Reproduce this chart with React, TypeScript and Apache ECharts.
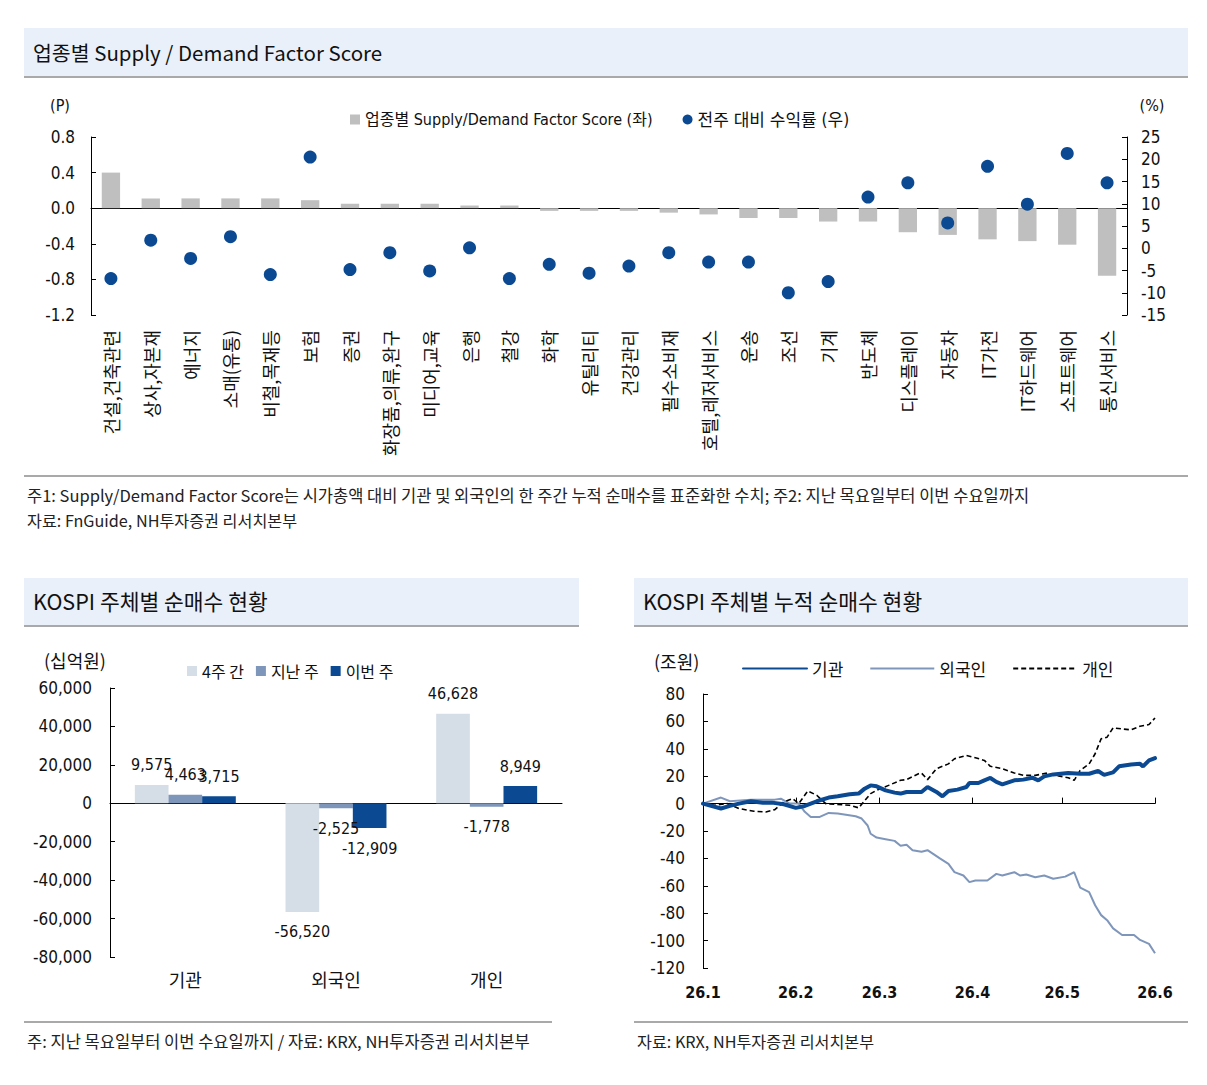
import { useEffect, useRef } from 'react';
import * as echarts from 'echarts';

// ---- 업종별 Supply / Demand Factor Score ----
const sectors = [
  '건설,건축관련', '상사,자본재', '에너지', '소매(유통)', '비철,목재등', '보험', '증권',
  '화장품,의류,완구', '미디어,교육', '은행', '철강', '화학', '유틸리티', '건강관리',
  '필수소비재', '호텔,레저서비스', '운송', '조선', '기계', '반도체', '디스플레이',
  '자동차', 'IT가전', 'IT하드웨어', '소프트웨어', '통신서비스',
];
const sdScore = [
  0.40, 0.11, 0.11, 0.11, 0.11, 0.09, 0.05, 0.05, 0.05, 0.03, 0.03, -0.03, -0.03,
  -0.03, -0.05, -0.07, -0.11, -0.11, -0.15, -0.15, -0.27, -0.30, -0.35, -0.37, -0.41, -0.76,
];
const weeklyReturn = [
  -6.8, 1.8, -2.3, 2.6, -5.9, 20.5, -4.8, -1.0, -5.1, 0.1, -6.8, -3.6, -5.6,
  -4.0, -1.0, -3.1, -3.1, -10.0, -7.5, 11.5, 14.7, 5.7, 18.4, 9.9, 21.3, 14.7,
];
const scoreName = '업종별 Supply/Demand Factor Score (좌)';
const returnName = '전주 대비 수익률 (우)';

// ---- KOSPI 주체별 순매수 현황 (십억원) ----
const investors = ['기관', '외국인', '개인'];
const flow4Weeks = [9575, -56520, 46628];
const flowLastWeek = [4463, -2525, -1778];
const flowThisWeek = [3715, -12909, 8949];

// ---- KOSPI 주체별 누적 순매수 현황 (조원) ----
const cumInstitution: [string, number][] = [
  ['2026-01-01', 0], ['2026-01-07', -3.6], ['2026-01-10', -1.7], ['2026-01-13', 0],
  ['2026-01-17', 1.7], ['2026-01-21', 0.7], ['2026-01-24', 0.7], ['2026-01-28', -0.5],
  ['2026-02-01', -3.1], ['2026-02-04', -1.7], ['2026-02-08', 1.7], ['2026-02-12', 4.4],
  ['2026-02-15', 5.3], ['2026-02-19', 6.8], ['2026-02-22', 7.3], ['2026-02-24', 10.9],
  ['2026-02-26', 13.3], ['2026-02-28', 12.6], ['2026-03-03', 9.7], ['2026-03-06', 8.0],
  ['2026-03-08', 7.3], ['2026-03-10', 8.5], ['2026-03-15', 8.5], ['2026-03-17', 12.1],
  ['2026-03-20', 8.5], ['2026-03-22', 5.3], ['2026-03-24', 9.2], ['2026-03-27', 10.2],
  ['2026-03-30', 12.1], ['2026-03-31', 15.0], ['2026-04-03', 15.0], ['2026-04-05', 17.0],
  ['2026-04-07', 18.7], ['2026-04-09', 15.8], ['2026-04-11', 14.1], ['2026-04-15', 17.0],
  ['2026-04-18', 17.5], ['2026-04-21', 18.9], ['2026-04-23', 17.0], ['2026-04-25', 19.9],
  ['2026-04-28', 21.3], ['2026-05-03', 22.3], ['2026-05-07', 21.8], ['2026-05-10', 21.8],
  ['2026-05-13', 23.8], ['2026-05-15', 21.0], ['2026-05-18', 22.8], ['2026-05-20', 27.2],
  ['2026-05-24', 28.6], ['2026-05-27', 29.0], ['2026-05-28', 27.2], ['2026-05-30', 31.5],
  ['2026-06-01', 33.2],
];
const cumForeign: [string, number][] = [
  ['2026-01-01', 0], ['2026-01-07', 4.4], ['2026-01-10', 1.7], ['2026-01-17', 2.9],
  ['2026-01-25', 2.9], ['2026-01-27', 3.6], ['2026-01-30', 0], ['2026-02-02', 0],
  ['2026-02-04', -6.0], ['2026-02-06', -9.7], ['2026-02-09', -9.7], ['2026-02-12', -6.8],
  ['2026-02-15', -7.3], ['2026-02-21', -9.2], ['2026-02-23', -10.9], ['2026-02-25', -16.0],
  ['2026-02-26', -22.0], ['2026-02-28', -24.8], ['2026-03-03', -26.0], ['2026-03-06', -27.2],
  ['2026-03-08', -30.8], ['2026-03-10', -30.1], ['2026-03-12', -34.0], ['2026-03-15', -35.2],
  ['2026-03-17', -34.0], ['2026-03-19', -36.9], ['2026-03-21', -39.8], ['2026-03-24', -44.0],
  ['2026-03-26', -50.0], ['2026-03-29', -52.5], ['2026-03-31', -57.3], ['2026-04-02', -56.1],
  ['2026-04-06', -56.1], ['2026-04-09', -51.3], ['2026-04-11', -52.5], ['2026-04-15', -50.1],
  ['2026-04-17', -52.5], ['2026-04-19', -51.8], ['2026-04-22', -53.7], ['2026-04-25', -52.5],
  ['2026-04-28', -54.9], ['2026-05-02', -53.3], ['2026-05-05', -50.1], ['2026-05-07', -61.4],
  ['2026-05-10', -64.6], ['2026-05-12', -74.2], ['2026-05-14', -81.4], ['2026-05-16', -85.1],
  ['2026-05-18', -91.1], ['2026-05-21', -95.9], ['2026-05-25', -95.9], ['2026-05-27', -99.5],
  ['2026-05-30', -102.4], ['2026-06-01', -109.2],
];
const cumIndividual: [string, number][] = [
  ['2026-01-01', 0], ['2026-01-05', -1.2], ['2026-01-09', 0], ['2026-01-13', -3.6],
  ['2026-01-18', -5.6], ['2026-01-22', -6.1], ['2026-01-25', -4.4], ['2026-01-28', 1.2],
  ['2026-01-31', 3.6], ['2026-02-02', 0], ['2026-02-05', 9.2], ['2026-02-08', 6.1],
  ['2026-02-11', 0], ['2026-02-14', -0.5], ['2026-02-19', -1.2], ['2026-02-22', -3.1],
  ['2026-02-26', 7.3], ['2026-02-28', 9.7], ['2026-03-04', 13.3], ['2026-03-08', 17.0],
  ['2026-03-10', 17.5], ['2026-03-14', 21.8], ['2026-03-15', 22.3], ['2026-03-17', 17.5],
  ['2026-03-20', 25.5], ['2026-03-24', 29.0], ['2026-03-26', 32.7], ['2026-03-30', 35.2],
  ['2026-04-02', 33.5], ['2026-04-05', 31.5], ['2026-04-07', 27.2], ['2026-04-11', 25.5],
  ['2026-04-15', 22.3], ['2026-04-18', 20.6], ['2026-04-22', 20.6], ['2026-04-26', 22.3],
  ['2026-04-29', 20.6], ['2026-05-03', 18.9], ['2026-05-05', 17.0], ['2026-05-07', 24.2],
  ['2026-05-10', 29.0], ['2026-05-12', 36.4], ['2026-05-14', 47.3], ['2026-05-16', 48.5],
  ['2026-05-18', 55.3], ['2026-05-21', 54.5], ['2026-05-24', 53.8], ['2026-05-27', 56.5],
  ['2026-05-30', 57.7], ['2026-06-01', 62.5],
];

const NARROW = "'Liberation Sans Narrow', 'Arial Narrow', 'DejaVu Sans Condensed', 'Noto Sans CJK KR', sans-serif";
const KR = "'Noto Sans CJK KR', sans-serif";
const BLUE = '#0b4a92';
const STEEL = '#7f96bb';
const PALE = '#d5dde6';
const HEADER_BG = '#e9f0f9';
const RULE = '#a9a9a9';

const fmtComma = (v: number) => Math.round(v).toLocaleString('en-US');

function text(x: number, y: number, str: string, size: number, opts: any = {}) {
  return {
    type: 'text',
    x,
    y,
    silent: true,
    style: {
      text: str,
      fontSize: size,
      fontFamily: opts.family || KR,
      fill: opts.fill || '#111',
      align: opts.align || 'left',
      verticalAlign: 'middle',
    },
  };
}
function hline(x1: number, x2: number, y: number) {
  return {
    type: 'line',
    silent: true,
    shape: { x1, y1: y, x2, y2: y },
    style: { stroke: RULE, lineWidth: 2 },
  };
}
function band(x: number, y: number, w: number, h: number) {
  return { type: 'rect', silent: true, shape: { x, y, width: w, height: h }, style: { fill: HEADER_BG } };
}

const axisLineStyle = { color: '#000', width: 1 };
const tickLabel = { fontSize: 17, fontFamily: NARROW, color: '#111' };

export default function App() {
  const ref = useRef<HTMLDivElement>(null);

  useEffect(() => {
    if (!ref.current) return;
    const chart = echarts.init(ref.current, undefined, { renderer: 'svg' });

    const option: any = {
      animation: false,
      backgroundColor: '#fff',
      grid: [
        { left: 91, top: 137, width: 1036, height: 178 },
        { left: 110, top: 688, width: 452, height: 269 },
        { left: 703, top: 694, width: 452, height: 274 },
      ],
      legend: [
        {
          left: 345,
          top: 106,
          itemWidth: 10,
          itemHeight: 10,
          itemGap: 30,
          textStyle: { fontSize: 16, fontFamily: NARROW, color: '#111' },
          data: [
            { name: scoreName, icon: 'rect' },
            { name: returnName, icon: 'circle', textStyle: { fontSize: 17 } },
          ],
        },
        {
          left: 182,
          top: 658,
          itemWidth: 10,
          itemHeight: 10,
          itemGap: 12,
          textStyle: { fontSize: 16, fontFamily: KR, color: '#111' },
          data: [
            { name: '4주 간', icon: 'rect' },
            { name: '지난 주', icon: 'rect' },
            { name: '이번 주', icon: 'rect' },
          ],
        },
        {
          left: 737,
          top: 655,
          itemWidth: 64,
          itemHeight: 10,
          itemGap: 26,
          itemStyle: { color: 'transparent', borderWidth: 0, opacity: 0 },
          textStyle: { fontSize: 17, fontFamily: KR, color: '#111' },
          data: ['기관', '외국인', '개인'],
        },
      ],
      xAxis: [
        // top chart: zero line with inward ticks
        {
          gridIndex: 0,
          type: 'category',
          data: sectors,
          axisLine: { onZero: true, onZeroAxisIndex: 0, lineStyle: axisLineStyle },
          axisTick: { inside: true, length: 5, lineStyle: axisLineStyle },
          axisLabel: { show: false },
        },
        // top chart: sector names along the bottom
        {
          gridIndex: 0,
          type: 'category',
          data: sectors,
          position: 'bottom',
          axisLine: { show: false, onZero: false },
          axisTick: { show: false },
          axisLabel: { interval: 0, rotate: 90, margin: 15, fontSize: 18, fontFamily: KR, color: '#111' },
        },
        // net buying: zero line
        {
          gridIndex: 1,
          type: 'category',
          data: investors,
          axisLine: { onZero: true, lineStyle: axisLineStyle },
          axisTick: { length: 5, lineStyle: axisLineStyle },
          axisLabel: { show: false },
        },
        {
          gridIndex: 1,
          type: 'category',
          data: investors,
          position: 'bottom',
          axisLine: { show: false, onZero: false },
          axisTick: { show: false },
          axisLabel: { margin: 13, fontSize: 18, fontFamily: KR, color: '#111' },
        },
        // cumulative: zero line
        {
          gridIndex: 2,
          type: 'time',
          min: '2026-01-01',
          max: '2026-06-01',
          axisLine: { onZero: true, lineStyle: axisLineStyle },
          axisTick: { show: true, inside: true, length: 6, lineStyle: axisLineStyle },
          axisLabel: { show: false },
          splitLine: { show: false },
          minorTick: { show: false },
        },
        {
          gridIndex: 2,
          type: 'time',
          min: '2026-01-01',
          max: '2026-06-01',
          position: 'bottom',
          axisLine: { show: false, onZero: false },
          axisTick: { show: false },
          splitLine: { show: false },
          axisLabel: {
            margin: 16,
            fontSize: 16,
            fontWeight: 'bold',
            fontFamily: NARROW,
            color: '#111',
            showMinLabel: true,
            showMaxLabel: true,
            formatter: (v: number) => {
              const d = new Date(v);
              return `${d.getFullYear() % 100}.${d.getMonth() + 1}`;
            },
          },
        },
      ],
      yAxis: [
        {
          gridIndex: 0,
          type: 'value',
          min: -1.2,
          max: 0.8,
          interval: 0.4,
          axisLine: { show: true, lineStyle: axisLineStyle },
          axisTick: { show: true, inside: true, length: 5, lineStyle: axisLineStyle },
          splitLine: { show: false },
          axisLabel: { ...tickLabel, margin: 16, formatter: (v: number) => v.toFixed(1) },
        },
        {
          gridIndex: 0,
          type: 'value',
          position: 'right',
          min: -15,
          max: 25,
          interval: 5,
          axisLine: { show: true, lineStyle: axisLineStyle },
          axisTick: { show: true, inside: true, length: 5, lineStyle: axisLineStyle },
          splitLine: { show: false },
          axisLabel: { ...tickLabel, margin: 14 },
        },
        {
          gridIndex: 1,
          type: 'value',
          min: -80000,
          max: 60000,
          interval: 20000,
          axisLine: { show: true, lineStyle: axisLineStyle },
          axisTick: { show: true, inside: true, length: 5, lineStyle: axisLineStyle },
          splitLine: { show: false },
          axisLabel: { ...tickLabel, margin: 18, formatter: fmtComma },
        },
        {
          gridIndex: 2,
          type: 'value',
          min: -120,
          max: 80,
          interval: 20,
          axisLine: { show: true, lineStyle: axisLineStyle },
          axisTick: { show: true, inside: true, length: 5, lineStyle: axisLineStyle },
          splitLine: { show: false },
          axisLabel: { ...tickLabel, margin: 18 },
        },
      ],
      series: [
        {
          name: scoreName,
          type: 'bar',
          xAxisIndex: 0,
          yAxisIndex: 0,
          data: sdScore,
          barWidth: '46%',
          itemStyle: { color: '#bfbfbf' },
        },
        {
          name: returnName,
          type: 'scatter',
          xAxisIndex: 0,
          yAxisIndex: 1,
          data: weeklyReturn,
          symbolSize: 13,
          itemStyle: { color: BLUE, opacity: 1 },
          z: 5,
        },
        ...[
          { name: '4주 간', data: flow4Weeks, color: PALE },
          { name: '지난 주', data: flowLastWeek, color: STEEL },
          { name: '이번 주', data: flowThisWeek, color: BLUE },
        ].map((s) => ({
          name: s.name,
          type: 'bar',
          xAxisIndex: 2,
          yAxisIndex: 2,
          barGap: '0%',
          barCategoryGap: '33%',
          itemStyle: { color: s.color },
          data: s.data.map((v) => ({
            value: v,
            label: { position: v >= 0 ? 'top' : 'bottom' },
          })),
          label: {
            show: true,
            distance: 12,
            fontSize: 16,
            fontFamily: NARROW,
            color: '#111',
            formatter: (p: any) => fmtComma(p.value),
          },
        })),
        {
          name: '외국인',
          type: 'line',
          xAxisIndex: 4,
          yAxisIndex: 3,
          data: cumForeign,
          showSymbol: false,
          symbol: 'none',
          lineStyle: { color: STEEL, width: 2 },
          itemStyle: { color: STEEL },
          z: 3,
        },
        {
          name: '개인',
          type: 'line',
          xAxisIndex: 4,
          yAxisIndex: 3,
          data: cumIndividual,
          showSymbol: false,
          symbol: 'none',
          lineStyle: { color: '#000', width: 1.6, type: [5, 3] },
          itemStyle: { color: '#000' },
          z: 4,
        },
        {
          name: '기관',
          type: 'line',
          xAxisIndex: 4,
          yAxisIndex: 3,
          data: cumInstitution,
          showSymbol: false,
          symbol: 'none',
          lineStyle: { color: BLUE, width: 4, cap: 'round' },
          itemStyle: { color: BLUE },
          z: 5,
        },
      ],
      graphic: [
        // section headers
        band(24, 28, 1164, 48),
        hline(24, 1188, 77),
        text(33, 52, '업종별 Supply / Demand Factor Score', 20.5),
        band(24, 578, 555, 47),
        hline(24, 579, 626),
        text(33, 600, 'KOSPI 주체별 순매수 현황', 21.5),
        band(634, 578, 554, 47),
        hline(634, 1188, 626),
        text(643, 600, 'KOSPI 주체별 누적 순매수 현황', 21.5),
        // axis units
        text(60, 105, '(P)', 16, { family: NARROW, align: 'center' }),
        text(1152, 105, '(%)', 16, { family: NARROW, align: 'center' }),
        text(44, 660, '(십억원)', 18),
        text(654, 661, '(조원)', 18),
        // notes
        hline(24, 1188, 476),
        text(27, 495, '주1: Supply/Demand Factor Score는 시가총액 대비 기관 및 외국인의 한 주간 누적 순매수를 표준화한 수치; 주2: 지난 목요일부터 이번 수요일까지', 16.5, { fill: '#222' }),
        text(27, 520, '자료: FnGuide, NH투자증권 리서치본부', 16.2, { fill: '#222' }),
        hline(24, 552, 1022),
        text(27, 1041, '주: 지난 목요일부터 이번 수요일까지 / 자료: KRX, NH투자증권 리서치본부', 16.5, { fill: '#222' }),
        hline(634, 1188, 1022),
        text(637, 1041, '자료: KRX, NH투자증권 리서치본부', 16.2, { fill: '#222' }),
      ],
    };

    chart.setOption(option);
    return () => chart.dispose();
  }, []);

  return (
    <div
      ref={ref}
      style={{ position: 'absolute', left: 0, top: 0, width: 1207, height: 1085, background: '#fff' }}
    />
  );
}
